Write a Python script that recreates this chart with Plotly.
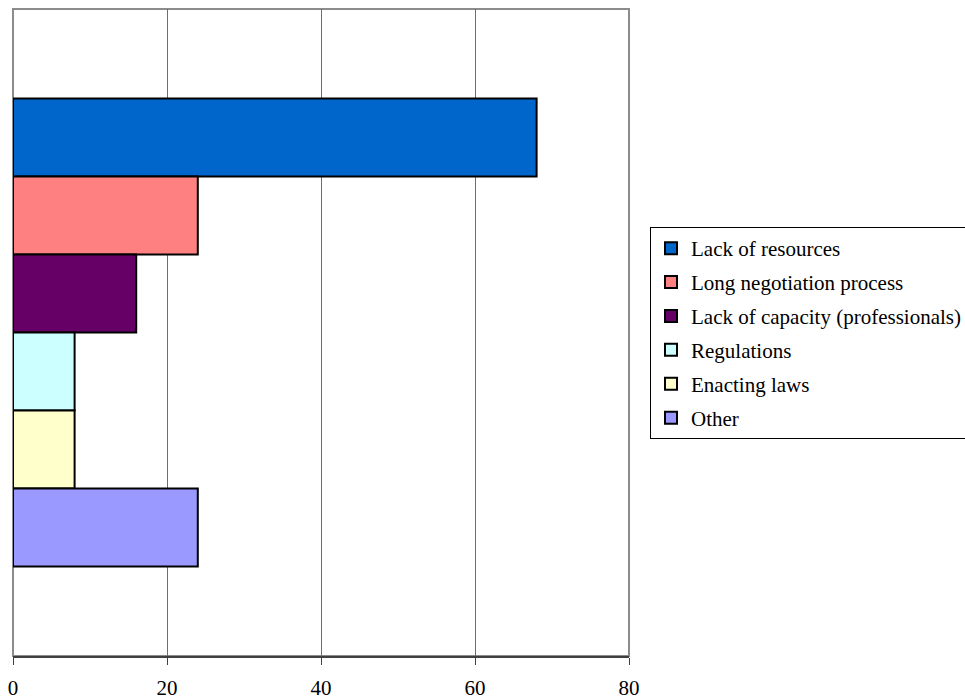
import plotly.graph_objects as go

# Survey responses: obstacles reported (%)
series_names = [
    "Lack of resources",
    "Long negotiation process",
    "Lack of capacity (professionals)",
    "Regulations",
    "Enacting laws",
    "Other",
]
series_values = [68, 24, 16, 8, 8, 24]
series_colors = ["#0066CC", "#FF8080", "#660066", "#CCFFFF", "#FFFFCC", "#9999FF"]
category = ["Obstacles"]
x_ticks = [0, 20, 40, 60, 80]

FONT = "'Times New Roman', 'Liberation Serif', 'DejaVu Serif', serif"

fig = go.Figure()
for i, (name, val, col) in enumerate(zip(series_names, series_values, series_colors)):
    fig.add_trace(go.Bar(
        name=name,
        x=[val],
        y=category,
        orientation="h",
        marker=dict(color=col, line=dict(color="black", width=2)),
        legendgroup=f"g{i}",
        hoverinfo="x+name",
    ))

W, H = 965, 700
L, R, T, B = 13, 629, 9, 656
pw, ph = R - L, B - T

fig.update_layout(
    width=W, height=H,
    margin=dict(l=L, r=W - R, t=T, b=H - B, autoexpand=False),
    paper_bgcolor="white",
    plot_bgcolor="white",
    barmode="group",
    bargap=0.277,
    bargroupgap=0,
    font=dict(family=FONT, size=21, color="black"),
    showlegend=True,
    legend=dict(
        x=(650 - L) / pw, xanchor="left",
        y=(B - 227) / ph, yanchor="top",
        bordercolor="black", borderwidth=1,
        bgcolor="white",
        traceorder="grouped",
        tracegroupgap=3.6,
        font=dict(family=FONT, size=21, color="black"),
    ),
    xaxis=dict(
        range=[0, 80],
        tickvals=x_ticks,
        ticktext=[str(v) for v in x_ticks],
        showgrid=True, gridcolor="#6e6e6e", gridwidth=1,
        zeroline=False,
        showline=True, linecolor="#404040", linewidth=2,
        ticks="outside", ticklen=7, tickcolor="#404040", tickwidth=1,
        ticklabelstandoff=5,
        tickfont=dict(family=FONT, size=21, color="black"),
        fixedrange=True,
    ),
    yaxis=dict(
        autorange="reversed",
        showticklabels=False,
        showgrid=False, zeroline=False,
        showline=False,
        fixedrange=True,
    ),
    shapes=[dict(
        type="rect", xref="paper", yref="paper",
        x0=0, x1=1, y0=0, y1=1,
        line=dict(color="#8c8c8c", width=2),
        layer="below",
    )],
)

fig.write_html("out.html")
